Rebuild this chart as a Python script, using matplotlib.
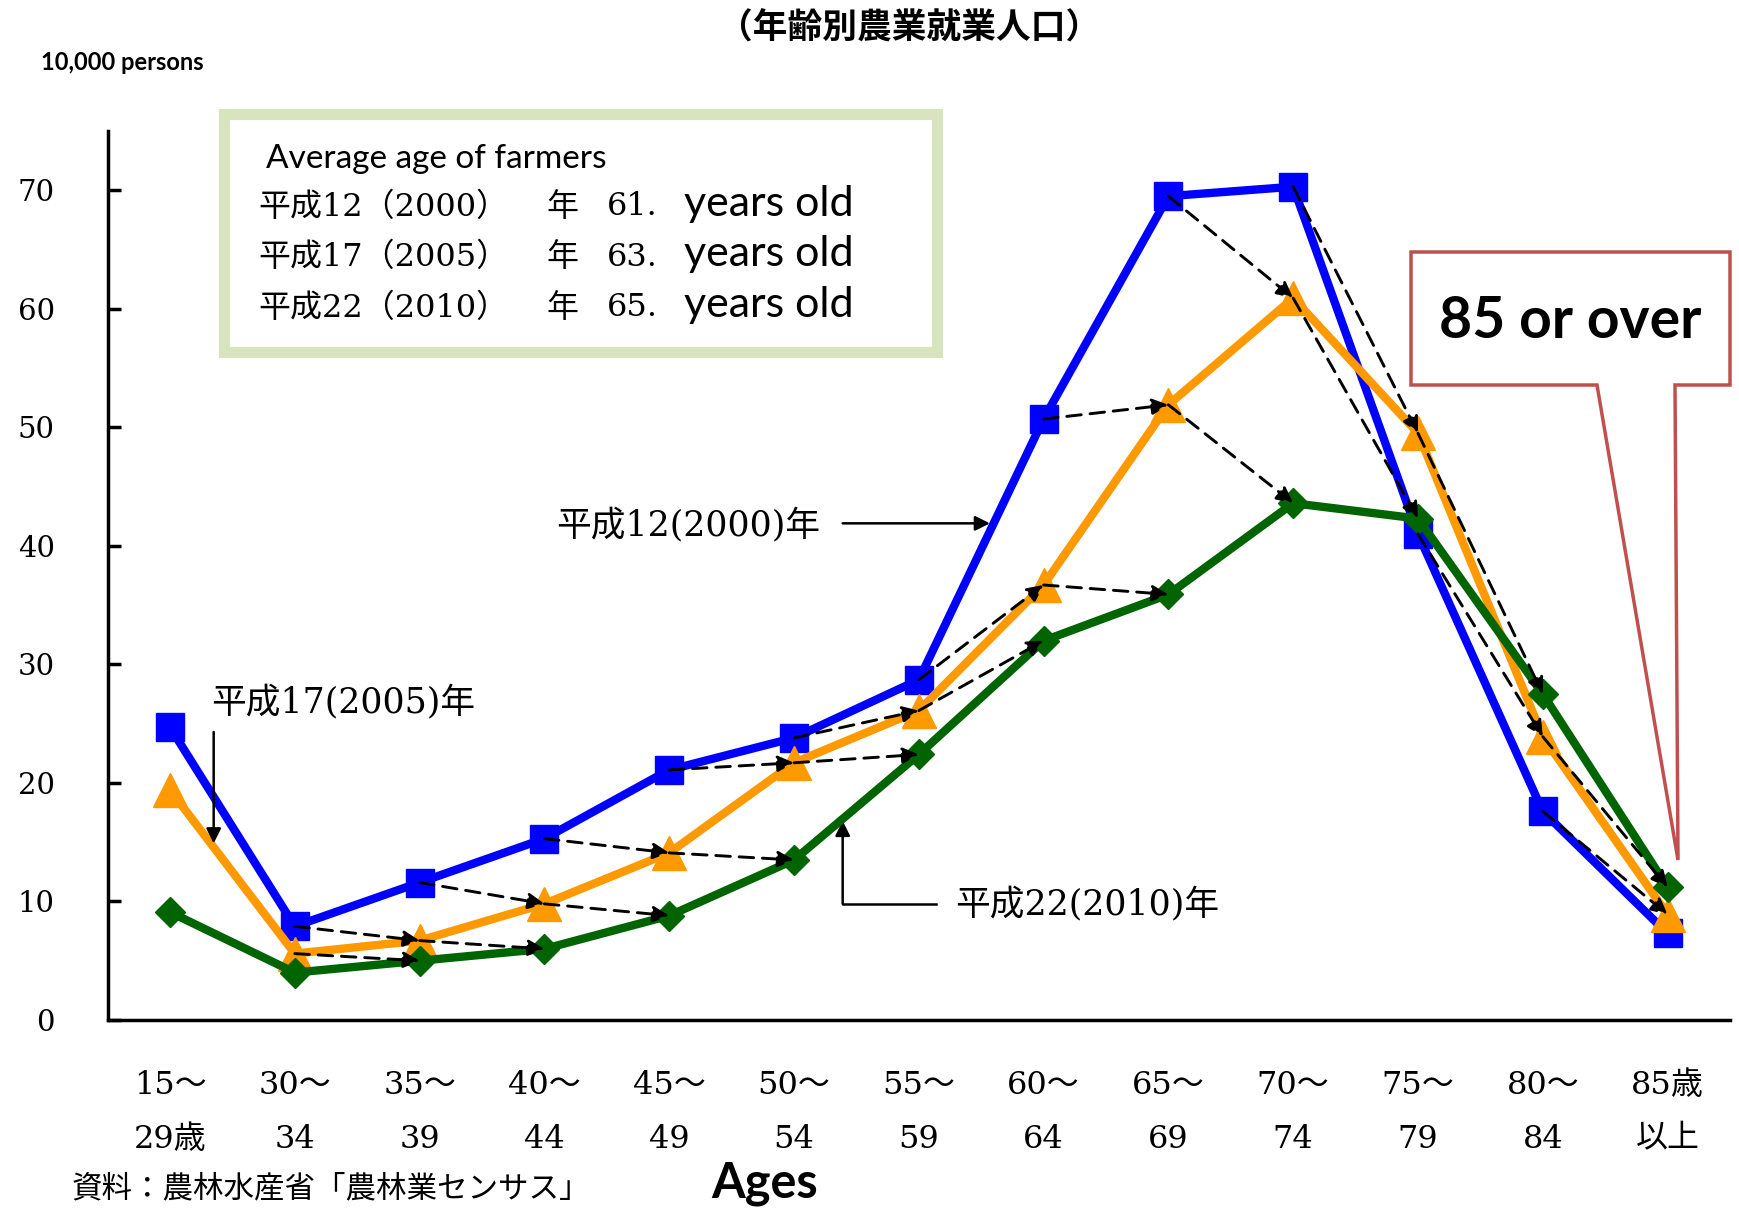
import matplotlib
matplotlib.use('Agg')
import matplotlib.pyplot as plt
from matplotlib.patches import Rectangle, Polygon

# 年齢別農業就業人口 (10,000 persons)
age_groups = ['15～\n29歳', '30～\n34', '35～\n39', '40～\n44', '45～\n49', '50～\n54',
              '55～\n59', '60～\n64', '65～\n69', '70～\n74', '75～\n79', '80～\n84', '85歳\n以上']
farmers_2000 = [24.7, 7.9, 11.6, 15.3, 21.1, 23.8, 28.7, 50.7, 69.5, 70.3, 41.0, 17.6, 7.3]
farmers_2005 = [19.4, 5.6, 6.7, 9.8, 14.1, 21.7, 26.1, 36.7, 51.9, 60.9, 49.5, 23.9, 8.9]
farmers_2010 = [9.1, 4.0, 5.0, 6.0, 8.8, 13.5, 22.4, 32.0, 35.9, 43.6, 42.3, 27.5, 11.2]

avg_years = ['平成12（2000）', '平成17（2005）', '平成22（2010）']
avg_ages = ['61.', '63.', '65.']

W, H = 1739, 1210
SERIF_JP = ['DejaVu Serif', 'Noto Sans CJK JP']
SANS = ['Lato', 'DejaVu Sans']
JP = ['Noto Sans CJK JP']


def fpos(px, py):
    # pixel position in the figure -> figure fraction
    return px / W, 1 - py / H


fig = plt.figure(figsize=(W / 100, H / 100), dpi=100)
ax = fig.add_axes([107.6 / W, 1 - 1020 / H, (1730 - 107.6) / W, (1020 - 131) / H])

x = list(range(len(age_groups)))
ax.plot(x, farmers_2000, color='#0000ff', lw=6, marker='s', ms=20, zorder=3)
ax.plot(x, farmers_2005, color='#ff9900', lw=6, marker='^', ms=24, zorder=3)
ax.plot(x, farmers_2010, color='#006400', lw=6, marker='D', ms=15, zorder=4)

# cohort arrows (dashed)
for i in range(1, len(x) - 1):
    for a, b in [(farmers_2000, farmers_2005), (farmers_2005, farmers_2010)]:
        ax.annotate('', xy=(i + 1, b[i + 1]), xytext=(i, a[i]),
                    arrowprops=dict(arrowstyle='-|>', color='black', lw=2.1, ls=(0, (5, 3)),
                                    mutation_scale=24, shrinkA=0, shrinkB=0), zorder=5)

ax.set_xlim(-0.5, 12.5)
ax.set_ylim(0, 75)
ax.set_yticks(range(0, 71, 10))
ax.set_xticks(x)
ax.set_xticklabels(age_groups, family=SERIF_JP, fontsize=23, linespacing=1.95)
for lab in ax.get_yticklabels():
    lab.set_family(SERIF_JP)
    lab.set_fontsize(21)
ax.tick_params(axis='y', direction='in', length=9, width=2.5, pad=38)
ax.tick_params(axis='x', length=0, pad=36)
for s in ['top', 'right']:
    ax.spines[s].set_visible(False)
for s in ['left', 'bottom']:
    ax.spines[s].set_linewidth(2.5)

# series labels
arrow_kw = dict(arrowstyle='-|>', color='black', lw=1.8, mutation_scale=22, shrinkA=0, shrinkB=0)
ax.text(5.21, 41.8, '平成12(2000)年', family=SERIF_JP, fontsize=25, ha='right', va='center')
ax.annotate('', xy=(6.57, 41.9), xytext=(5.39, 41.9), arrowprops=arrow_kw)
ax.text(0.33, 26.8, '平成17(2005)年', family=SERIF_JP, fontsize=25, ha='left', va='center')
ax.annotate('', xy=(0.35, 14.9), xytext=(0.35, 24.3), arrowprops=arrow_kw)
ax.text(6.29, 9.8, '平成22(2010)年', family=SERIF_JP, fontsize=25, ha='left', va='center')
ax.plot([6.14, 5.39], [9.8, 9.8], color='black', lw=1.8)
ax.annotate('', xy=(5.39, 16.8), xytext=(5.39, 9.8), arrowprops=arrow_kw)

# average age box
bx0, by0 = fpos(223.5, 351.5)
bx1, by1 = fpos(936.5, 113.5)
fig.add_artist(Rectangle((bx0, by0), bx1 - bx0, by1 - by0, transform=fig.transFigure,
                         facecolor='white', edgecolor='#d7e4bd', lw=8, zorder=6))
fig.text(*fpos(266, 159), 'Average age of farmers', family=SANS, fontsize=24,
         ha='left', va='center', zorder=7)
for yr, age, py in zip(avg_years, avg_ages, [207, 257, 308]):
    fig.text(*fpos(258, py), yr, family=SERIF_JP, fontsize=23, ha='left', va='center', zorder=7)
    fig.text(*fpos(546, py), '年', family=JP, fontsize=23, ha='left', va='center', zorder=7)
    fig.text(*fpos(607, py), age, family=SERIF_JP, fontsize=23, ha='left', va='center', zorder=7)
    fig.text(*fpos(684, py - 3), 'years old', family=SANS, fontsize=31, ha='left', va='center',
             zorder=7)

# 85 or over callout
pts = [fpos(1411, 252), fpos(1730, 252), fpos(1730, 385), fpos(1675, 385), fpos(1678, 860),
       fpos(1597, 385), fpos(1411, 385)]
fig.add_artist(Polygon(pts, closed=True, transform=fig.transFigure, facecolor='white',
                       edgecolor='#c0504d', lw=2.5, zorder=6))
fig.text(*fpos(1570, 322), '85 or over', family=SANS, fontsize=41, fontweight='bold',
         ha='center', va='center', zorder=7)

# titles and notes
fig.text(*fpos(909, 28), '（年齢別農業就業人口）', family=JP, fontsize=25, fontweight='bold',
         ha='center', va='center')
fig.text(*fpos(41, 63), '10,000 persons', family=SANS, fontsize=17, fontweight='bold',
         ha='left', va='center')
fig.text(*fpos(765, 1184), 'Ages', family=SANS, fontsize=35, fontweight='bold',
         ha='center', va='center')
fig.text(*fpos(72, 1189), '資料：農林水産省「農林業センサス」', family=JP, fontsize=22,
         ha='left', va='center')

fig.savefig('out.png', dpi=100)
